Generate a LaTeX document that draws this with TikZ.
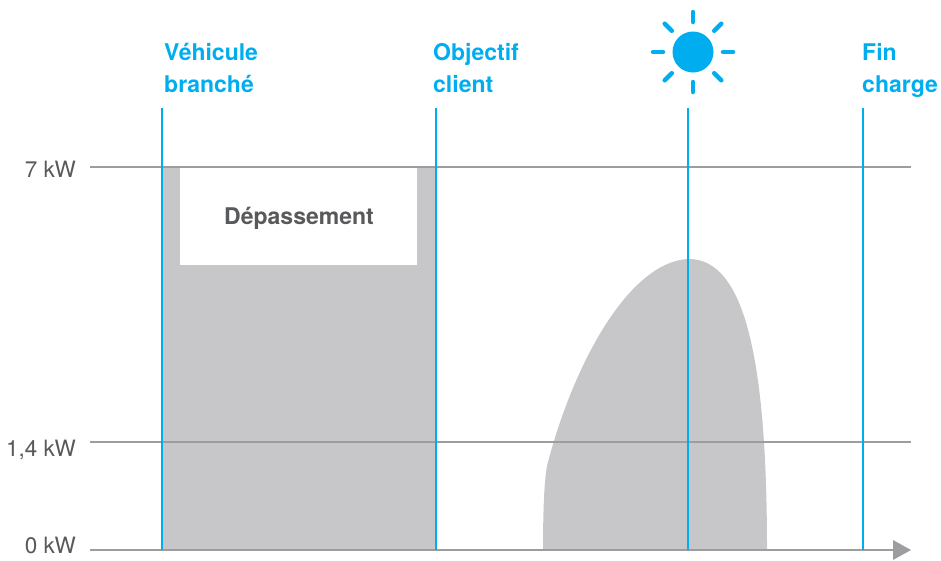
\documentclass[tikz,border=0pt]{standalone}
\usepackage{fontspec}
\setmainfont{TeX Gyre Heros}
\usetikzlibrary{calc}
\definecolor{cblue}{RGB}{0,174,239}
\definecolor{cfill}{RGB}{199,199,201}
\definecolor{cline}{RGB}{157,157,160}
\definecolor{ctext}{RGB}{88,89,91}
\tikzset{
  gline/.style={draw=cline,line width=2pt},
  bline/.style={draw=cblue,line width=2pt},
  blab/.style={anchor=base west,inner sep=0pt,text=cblue,font=\fontsize{23}{28}\selectfont\bfseries},
  ylab/.style={anchor=base east,inner sep=0pt,text=ctext,font=\fontsize{22.5}{27}\selectfont},
  ray/.style={draw=cblue,line width=4.5pt,line cap=round},
}
\begin{document}
\begin{tikzpicture}[x=1pt,y=-1pt]
\useasboundingbox (0,0) rectangle (941,560);
% gray areas
\fill[cfill] (162,167) rectangle (436,550);
\fill[white] (180,167) rectangle (417,265);
\fill[cfill] (543,550) .. controls (543,500) and (545,472) .. (548,462)
  .. controls (575,360) and (630,262) .. (688,259)
  .. controls (745,258) and (767,360) .. (767,550) -- cycle;
\node[inner sep=0pt,anchor=base,text=ctext,font=\fontsize{23}{28}\selectfont\bfseries] (dep) at (299,224) {Dépassement};
% horizontal lines
\coordinate (h7a) at (90,167); \coordinate (h7b) at (911,167);
\coordinate (h1a) at (90,442); \coordinate (h1b) at (911,442);
\coordinate (h0a) at (90,550); \coordinate (h0b) at (894,550);
\draw[gline] (h7a) -- (h7b);
\draw[gline] (h1a) -- (h1b);
\draw[gline] (h0a) -- (h0b);
\fill[cline] (893,540) -- (911,550) -- (893,560) -- cycle;
% y labels
\node[ylab] (l7) at (76,177) {7 kW};
\node[ylab] (l14) at (76,456) {1,4 kW};
\node[ylab] (l0) at (76,553) {0 kW};
% blue lines
\foreach \x/\n in {162/a,436/b,688/c,863/d}{
  \coordinate (t\n) at (\x,108);
  \coordinate (u\n) at (\x,550);
  \draw[bline] (t\n) -- (u\n);
}
% labels
\node[blab] (v1) at (164,60) {Véhicule};
\node[blab] (v2) at (164,92) {branché};
\node[blab] (o1) at (433,60) {Objectif};
\node[blab] (o2) at (433,92) {client};
\node[blab] (f1) at (862,60) {Fin};
\node[blab] (f2) at (862,92) {charge};
% sun
\coordinate (sun) at (693,52);
\fill[cblue] (sun) circle (20.5);
\foreach \a in {0,45,...,315}{
  \draw[ray] ($(sun)+(\a:30)$) -- ($(sun)+(\a:40)$);
}
\end{tikzpicture}
\end{document}
